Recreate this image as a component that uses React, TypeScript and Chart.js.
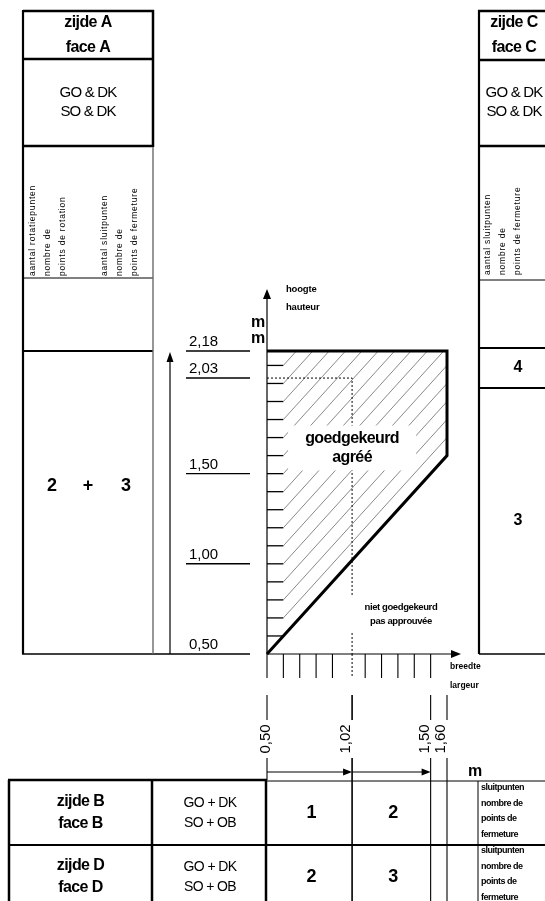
import React, { useEffect, useRef } from "react";
import { Chart, registerables } from "chart.js";

Chart.register(...registerables);

// ---------------- data ----------------
const widthMarks = [0.5, 1.02, 1.5, 1.6]; // breedte / largeur (m)
const widthLabels = ["0,50", "1,02", "1,50", "1,60"];
const heightMarks = [0.5, 1.0, 1.5, 2.03, 2.18]; // hoogte / hauteur (m)
const heightLabels = ["0,50", "1,00", "1,50", "2,03", "2,18"];
const approvedX = [0.5, 1.6, 1.6, 0.5];
const approvedY = [0.5, 1.6, 2.18, 2.18];
const guideX = [0.5, 1.02, 1.02];
const guideY = [2.03, 2.03, 0.5];
const hatchLevels = [0.6, 0.7, 0.8, 0.9, 1.0, 1.1, 1.2, 1.3, 1.4, 1.5, 1.6, 1.7, 1.8, 1.9, 2.0, 2.1];
const widthGrid = [0.5, 0.6, 0.7, 0.8, 0.9, 1.1, 1.2, 1.3, 1.4, 1.5];
const topSides = [["zijde A", "face A"], ["zijde C", "face C"]];
const topHardware = [["GO & DK", "SO & DK"], ["GO & DK", "SO & DK"]];
const rotationCaption = ["aantal rotatiepunten", "nombre de", "points de rotation"];
const closingCaption = ["aantal sluitpunten", "nombre de", "points de fermeture"];
const leftHeightCounts = ["2", "+", "3"];
const rightHeightCounts = ["4", "3"];
const bottomSides = [["zijde B", "face B"], ["zijde D", "face D"]];
const bottomHardware = [["GO + DK", "SO + OB"], ["GO + DK", "SO + OB"]];
const closingCounts = [["1", "2"], ["2", "3"]];
const closingNote = ["sluitpunten", "nombre de", "points de", "fermeture"];
const approvedText = ["goedgekeurd", "agréé"];
const rejectedText = ["niet goedgekeurd", "pas approuvée"];
const heightAxisText = ["hoogte", "hauteur"];
const widthAxisText = ["breedte", "largeur"];

// ---------------- drawing helpers ----------------
const FONT = '"Liberation Sans", Arial, sans-serif';

function seg(ctx: CanvasRenderingContext2D, x1: number, y1: number, x2: number, y2: number, w = 1, color = "#000", dash: number[] = []) {
  ctx.save();
  ctx.beginPath();
  ctx.strokeStyle = color;
  ctx.lineWidth = w;
  ctx.setLineDash(dash);
  ctx.moveTo(x1, y1);
  ctx.lineTo(x2, y2);
  ctx.stroke();
  ctx.restore();
}

function txt(ctx: CanvasRenderingContext2D, s: string, x: number, y: number, size: number, weight = "normal", align: CanvasTextAlign = "center", spacing = 0) {
  ctx.save();
  ctx.font = `${weight} ${size}px ${FONT}`;
  ctx.fillStyle = "#000";
  ctx.textAlign = align;
  ctx.textBaseline = "middle";
  (ctx as any).letterSpacing = spacing + "px";
  ctx.fillText(s, x, y);
  ctx.restore();
}

function vtxt(ctx: CanvasRenderingContext2D, s: string, x: number, y: number, size: number, weight = "normal", align: CanvasTextAlign = "center", spacing = 0) {
  ctx.save();
  ctx.translate(x, y);
  ctx.rotate(-Math.PI / 2);
  ctx.font = `${weight} ${size}px ${FONT}`;
  ctx.fillStyle = "#000";
  ctx.textAlign = align;
  ctx.textBaseline = "middle";
  (ctx as any).letterSpacing = spacing + "px";
  ctx.fillText(s, 0, 0);
  ctx.restore();
}

function arrowUp(ctx: CanvasRenderingContext2D, x: number, y: number, len = 10, half = 4) {
  ctx.save();
  ctx.beginPath();
  ctx.fillStyle = "#000";
  ctx.moveTo(x, y);
  ctx.lineTo(x - half, y + len);
  ctx.lineTo(x + half, y + len);
  ctx.closePath();
  ctx.fill();
  ctx.restore();
}

function arrowRight(ctx: CanvasRenderingContext2D, x: number, y: number, len = 10, half = 4) {
  ctx.save();
  ctx.beginPath();
  ctx.fillStyle = "#000";
  ctx.moveTo(x, y);
  ctx.lineTo(x - len, y - half);
  ctx.lineTo(x - len, y + half);
  ctx.closePath();
  ctx.fill();
  ctx.restore();
}

const drawingPlugin = {
  id: "drawing",
  beforeDraw(chart: any) {
    const { ctx, width, height } = chart;
    ctx.save();
    ctx.fillStyle = "#fff";
    ctx.fillRect(0, 0, width, height);
    ctx.restore();
  },
  beforeDatasetsDraw(chart: any) {
    const ctx: CanvasRenderingContext2D = chart.ctx;
    const xs = chart.scales.x;
    const ys = chart.scales.y;
    const X = (v: number) => xs.getPixelForValue(v);
    const Y = (v: number) => ys.getPixelForValue(v);
    const x0 = X(widthMarks[0]);
    const y0 = Y(heightMarks[0]);
    const xMax = Math.max(...approvedX);
    const yMax = Math.max(...approvedY);
    const hx = widthMarks[0] + (hatchLevels[1] - hatchLevels[0]);
    const H = chart.height;
    const W = chart.width;

    // ---- hatching of the approved zone ----
    hatchLevels.forEach((v) => {
      const c = v - hx;
      seg(ctx, x0, Y(v), X(hx), Y(v), 1.3);
      const ex = Math.min(xMax, yMax - c);
      seg(ctx, X(hx), Y(v), X(ex), Y(ex + c), 0.9, "#7c7c7c");
    });

    // ---- axes ----
    seg(ctx, x0, y0, x0, ys.top - 54, 1.2);
    arrowUp(ctx, x0, ys.top - 62);
    seg(ctx, x0, y0, xs.right + 6, y0, 1.2);
    arrowRight(ctx, xs.right + 14, y0);

    // ticks below the width axis
    widthGrid.forEach((w) => seg(ctx, X(w), y0, X(w), y0 + 24, 1.1));
    seg(ctx, X(guideX[1]), y0, X(guideX[1]), y0 + 24, 1, "#000", [2, 2]);

    // axis captions
    txt(ctx, heightAxisText[0], x0 + 19, ys.top - 62, 9.5, "bold", "left", -0.2);
    txt(ctx, heightAxisText[1], x0 + 19, ys.top - 44, 9.5, "bold", "left", -0.2);
    txt(ctx, "m", x0 - 9, ys.top - 28, 16, "bold");
    txt(ctx, "m", x0 - 9, ys.top - 12, 16, "bold");
    txt(ctx, widthAxisText[0], xs.right + 3, y0 + 13, 8.5, "bold", "left");
    txt(ctx, widthAxisText[1], xs.right + 3, y0 + 32, 8.5, "bold", "left");

    // ---- height dimension labels ----
    heightMarks.forEach((v, i) => {
      seg(ctx, x0 - 81, Y(v), x0 - 17, Y(v), 1.4);
      txt(ctx, heightLabels[i], x0 - 78, Y(v) - 9, 15, "normal", "left");
    });

    // ---- width dimension labels ----
    widthMarks.forEach((w, i) => {
      const lw = i === 1 ? 1.6 : 1.1;
      seg(ctx, X(w), y0 + 41, X(w), y0 + 66, lw);
      vtxt(ctx, widthLabels[i], X(w) - (i === 0 ? 1 : 6), y0 + 85, 15);
      seg(ctx, X(w), y0 + 104, X(w), i === 0 ? y0 + 126 : H, lw);
    });
    for (let i = 0; i < 2; i++) {
      seg(ctx, X(widthMarks[i]), y0 + 118, X(widthMarks[i + 1]) - 8, y0 + 118, 1.1);
      arrowRight(ctx, X(widthMarks[i + 1]), y0 + 118, 9, 3.5);
    }
    txt(ctx, "m", X(xMax) + 28, y0 + 118, 16, "bold");

    // ---- left vertical arrow ----
    seg(ctx, 170, y0, 170, ys.top + 10, 1.2);
    arrowUp(ctx, 170, ys.top + 1, 10, 3.5);

    // ---- top-left table ----
    const L1 = 23, L2 = 153;
    seg(ctx, L1, 11, L2 + 1, 11, 2.5);
    seg(ctx, L1, 59, L2, 59, 2.5);
    seg(ctx, L1, 146, L2, 146, 2.5);
    seg(ctx, L1, 278, L2, 278, 1);
    seg(ctx, L1, 351, L2, 351, 2);
    seg(ctx, L1 - 1, y0, x0 - 81, y0, 1.4);
    seg(ctx, L1, 10, L1, y0, 2.2);
    seg(ctx, L2, 10, L2, 147, 2.5);
    seg(ctx, L2, 147, L2, y0, 1.4, "#6a6a6a");
    txt(ctx, topSides[0][0], 88, 23, 16, "bold", "center", -0.6);
    txt(ctx, topSides[0][1], 88, 48, 16, "bold", "center", -0.6);
    txt(ctx, topHardware[0][0], 88, 93, 15, "normal", "center", -0.8);
    txt(ctx, topHardware[0][1], 88, 112, 15, "normal", "center", -0.8);
    const capL = [33, 48, 63];
    rotationCaption.forEach((s, i) => vtxt(ctx, s, capL[i], 276, 8.5, "normal", "left", 0.8));
    closingCaption.forEach((s, i) => vtxt(ctx, s, capL[i] + 72, 276, 8.5, "normal", "left", 0.8));
    const cntX = [52, 88, 126];
    leftHeightCounts.forEach((s, i) => txt(ctx, s, cntX[i], 486, 18, "bold"));

    // ---- top-right table ----
    const R1 = 479;
    seg(ctx, R1 - 1, 11, W, 11, 2.5);
    seg(ctx, R1, 60, W, 60, 2.5);
    seg(ctx, R1, 146, W, 146, 2.5);
    seg(ctx, R1, 280, W, 280, 1);
    seg(ctx, R1, 348, W, 348, 2);
    seg(ctx, R1, 388, W, 388, 2);
    seg(ctx, R1, y0, W, y0, 1.4);
    seg(ctx, R1, 10, R1, y0, 2.2);
    txt(ctx, topSides[1][0], 514, 23, 16, "bold", "center", -0.6);
    txt(ctx, topSides[1][1], 514, 48, 16, "bold", "center", -0.6);
    txt(ctx, topHardware[1][0], 514, 93, 15, "normal", "center", -0.8);
    txt(ctx, topHardware[1][1], 514, 112, 15, "normal", "center", -0.8);
    closingCaption.forEach((s, i) => vtxt(ctx, s, 488 + i * 15, 275, 8.5, "normal", "left", 0.8));
    txt(ctx, rightHeightCounts[0], 518, 368, 16, "bold");
    txt(ctx, rightHeightCounts[1], 518, 521, 16, "bold");

    // ---- bottom table ----
    const B0 = y0 + 126, B1 = 845;
    const C0 = 9, C1 = 152, C5 = 478;
    seg(ctx, C0 - 1, B0, x0, B0, 2.5);
    seg(ctx, x0, B0 + 1, W, B0 + 1, 1);
    seg(ctx, C0 - 1, B1, W, B1, 2.2);
    seg(ctx, C0, B0, C0, H, 2.5);
    seg(ctx, C1, B0, C1, H, 2.5);
    seg(ctx, x0 - 1, B0, x0 - 1, H, 2.5);
    seg(ctx, C5, B0 + 1, C5, H, 1);
    const rowC = [813, 877];
    const rowT = [B0 + 8, B1 + 6];
    for (let r = 0; r < 2; r++) {
      txt(ctx, bottomSides[r][0], (C0 + C1) / 2, rowC[r] - 11, 16, "bold", "center", -0.6);
      txt(ctx, bottomSides[r][1], (C0 + C1) / 2, rowC[r] + 11, 16, "bold", "center", -0.6);
      txt(ctx, bottomHardware[r][0], 210, rowC[r] - 10, 14, "normal", "center", -0.6);
      txt(ctx, bottomHardware[r][1], 210, rowC[r] + 10, 14, "normal", "center", -0.6);
      for (let c = 0; c < 2; c++) {
        txt(ctx, closingCounts[r][c], (X(widthMarks[c]) + X(widthMarks[c + 1])) / 2 + 2, rowC[r], 18, "bold");
      }
      closingNote.forEach((s, i) => txt(ctx, s, C5 + 3, rowT[r] + i * 15.4, 9, "bold", "left", -0.5));
    }
  },
  afterDatasetsDraw(chart: any) {
    const ctx: CanvasRenderingContext2D = chart.ctx;
    const xs = chart.scales.x;
    const ys = chart.scales.y;
    const X = (v: number) => xs.getPixelForValue(v);
    const Y = (v: number) => ys.getPixelForValue(v);
    // approved label with white box
    const ax = X(guideX[1]), ay = Y(1.645);
    ctx.save();
    ctx.fillStyle = "#fff";
    ctx.fillRect(ax - 64, ay - 22, 128, 45);
    ctx.restore();
    txt(ctx, approvedText[0], ax, ay - 9, 16, "bold", "center", -0.6);
    txt(ctx, approvedText[1], ax, ay + 10, 16, "bold", "center", -0.6);
    // not approved label
    const nx = X(1.3), ny = Y(0.72);
    ctx.save();
    ctx.fillStyle = "#fff";
    ctx.fillRect(nx - 53, ny - 18, 106, 36);
    ctx.restore();
    txt(ctx, rejectedText[0], nx + 3, ny - 7, 9.5, "bold", "center", -0.4);
    txt(ctx, rejectedText[1], nx + 3, ny + 7, 9.5, "bold", "center", -0.4);
  },
};

export default function App() {
  const canvasRef = useRef<HTMLCanvasElement | null>(null);

  useEffect(() => {
    const canvas = canvasRef.current;
    if (!canvas) return;
    const chart = new Chart(canvas, {
      type: "scatter",
      data: {
        datasets: [
          {
            data: approvedX.map((x, i) => ({ x, y: approvedY[i] })),
            showLine: true,
            borderColor: "#000",
            borderWidth: 3,
            pointRadius: 0,
            fill: false,
            clip: false as any,
            borderJoinStyle: "miter",
          } as any,
          {
            data: guideX.map((x, i) => ({ x, y: guideY[i] })),
            showLine: true,
            borderColor: "#000",
            borderWidth: 1,
            borderDash: [2, 2],
            pointRadius: 0,
            fill: false,
            clip: false as any,
          } as any,
        ],
      },
      options: {
        responsive: false,
        maintainAspectRatio: false,
        animation: false,
        events: [],
        layout: { padding: { left: 267, right: 98, top: 351, bottom: 247 } },
        scales: {
          x: { type: "linear", min: 0.5, max: 1.6, display: false },
          y: { type: "linear", min: 0.5, max: 2.18, display: false },
        },
        plugins: { legend: { display: false }, tooltip: { enabled: false } },
      },
      plugins: [drawingPlugin],
    });
    return () => chart.destroy();
  }, []);

  return (
    <div style={{ position: "absolute", left: 0, top: 0, width: 545, height: 901, background: "#fff" }}>
      <canvas ref={canvasRef} width={545} height={901} style={{ display: "block", width: 545, height: 901 }} />
    </div>
  );
}
